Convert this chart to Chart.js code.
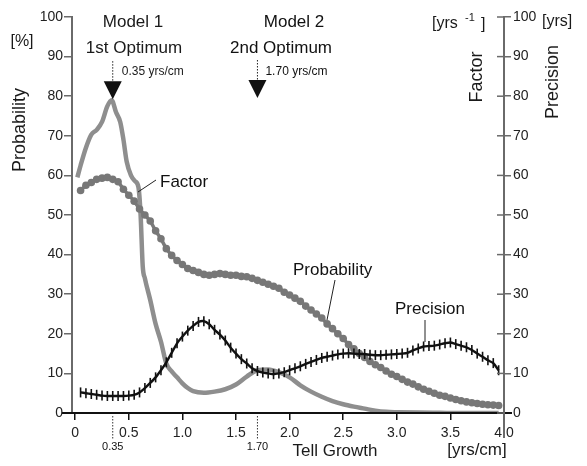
<!DOCTYPE html>
<html>
<head>
<meta charset="utf-8">
<script src="https://cdn.jsdelivr.net/npm/chart.js@4.4.1/dist/chart.umd.min.js"></script>
<style>
  html, body { margin: 0; padding: 0; background: #fff; }
  #wrap { width: 587px; height: 466px; position: relative; }
</style>
</head>
<body>
<div id="wrap"><canvas id="chart"></canvas></div>
<script>
// Tell growth curves: Factor, Probability, Precision vs. growth rate (yrs/cm)

const xTicks = [0, 0.5, 1.0, 1.5, 2.0, 2.5, 3.0, 3.5, 4.0];
const yTicks = [0, 10, 20, 30, 40, 50, 60, 70, 80, 90, 100];

const factorX = [0.02, 0.05, 0.10, 0.15, 0.20, 0.25, 0.30, 0.34, 0.38, 0.42, 0.45, 0.48, 0.52, 0.56, 0.59, 0.61, 0.63, 0.65,
  0.70, 0.75, 0.80, 0.85, 0.90, 0.95, 1.00, 1.05, 1.10, 1.20, 1.30, 1.40, 1.50, 1.60, 1.70, 1.80, 1.90, 2.00,
  2.10, 2.20, 2.30, 2.40, 2.50, 2.60, 2.70, 2.80, 2.90, 3.00, 3.20, 3.40, 3.60, 3.80, 3.95];
const factorY = [59.5, 62.5, 67, 70.3, 71.5, 73.5, 77.5, 79, 76, 73.5, 69, 63.5, 60, 58.5, 57, 50, 37, 34,
  28.5, 22.5, 18, 12.5, 10.5, 9, 7.5, 6.3, 5.5, 5.1, 5.4, 6, 7.2, 9.2, 10.8, 11, 10.3, 9,
  7, 5.4, 4.1, 3, 2.2, 1.6, 1.1, 0.6, 0.3, 0.2, 0.1, 0.05, 0, 0, 0];

const growth = [0.05, 0.10, 0.15, 0.20, 0.25, 0.30, 0.35, 0.40, 0.45, 0.50, 0.55, 0.60, 0.65, 0.70, 0.75, 0.80, 0.85, 0.90, 0.95, 1.00,
  1.05, 1.10, 1.15, 1.20, 1.25, 1.30, 1.35, 1.40, 1.45, 1.50, 1.55, 1.60, 1.65, 1.70, 1.75, 1.80, 1.85, 1.90, 1.95, 2.00,
  2.05, 2.10, 2.15, 2.20, 2.25, 2.30, 2.35, 2.40, 2.45, 2.50, 2.55, 2.60, 2.65, 2.70, 2.75, 2.80, 2.85, 2.90, 2.95, 3.00,
  3.05, 3.10, 3.15, 3.20, 3.25, 3.30, 3.35, 3.40, 3.45, 3.50, 3.55, 3.60, 3.65, 3.70, 3.75, 3.80, 3.85, 3.90, 3.95];

const probability = [56.2, 57.5, 58.2, 59.0, 59.3, 59.5, 59.0, 58.4, 56.5, 55.0, 53.5, 51.5, 50.0, 48.5, 46.0, 44.0, 41.5, 39.8, 38.5, 37.5,
  36.5, 36.0, 35.5, 35.0, 34.8, 35.0, 35.2, 35.0, 34.8, 34.8, 34.5, 34.4, 34.0, 33.5, 33.0, 32.5, 32.0, 31.5, 30.5, 29.8,
  29.0, 28.2, 27.0, 26.0, 25.0, 24.0, 22.5, 21.3, 20.0, 18.8, 17.3, 16.2, 15.0, 14.0, 13.0, 12.2, 11.5, 10.6, 9.8, 9.2,
  8.5, 7.8, 7.3, 6.6, 6.0, 5.5, 5.0, 4.5, 4.2, 3.8, 3.4, 3.1, 2.8, 2.6, 2.4, 2.2, 2.1, 2.0, 1.9];

const precision = [5.2, 5.0, 4.8, 4.6, 4.4, 4.3, 4.3, 4.3, 4.3, 4.4, 4.6, 5.2, 6.3, 7.6, 9.0, 10.8, 12.8, 15.2, 17.6, 19.3,
  20.8, 22.0, 23.0, 23.2, 22.4, 21.0, 19.8, 18.3, 16.5, 15.0, 13.6, 12.5, 11.3, 10.6, 10.2, 10.0, 9.8, 10.0, 10.3, 10.8,
  11.3, 11.8, 12.4, 12.9, 13.4, 13.9, 14.2, 14.5, 14.8, 15.0, 15.1, 15.0, 14.9, 14.9, 14.7, 14.6, 14.6, 14.7, 14.8, 14.9,
  15.0, 15.2, 15.8, 16.3, 16.8, 16.9, 17.0, 17.3, 17.6, 17.8, 17.4, 17.0, 16.6, 15.9, 15.0, 14.2, 13.3, 12.6, 10.8];

const FONT = "'Liberation Sans', Arial, sans-serif";
const AXIS = "#6a6a6a";

function pts(xs, ys) { return xs.map((x, i) => ({ x, y: ys[i] })); }

function text(ctx, s, x, y, size, align = "center") {
  ctx.font = `${size}px ${FONT}`;
  ctx.textAlign = align;
  ctx.textBaseline = "middle";
  ctx.fillText(s, x, y);
}

function vtext(ctx, s, x, y, size) {
  ctx.save();
  ctx.translate(x, y);
  ctx.rotate(-Math.PI / 2);
  text(ctx, s, 0, 0, size);
  ctx.restore();
}

function line(ctx, x1, y1, x2, y2, color, w, dash) {
  ctx.save();
  ctx.strokeStyle = color;
  ctx.lineWidth = w;
  if (dash) ctx.setLineDash(dash);
  ctx.beginPath();
  ctx.moveTo(x1, y1);
  ctx.lineTo(x2, y2);
  ctx.stroke();
  ctx.restore();
}

function arrow(ctx, px, tipY) {
  line(ctx, px, tipY - 38, px, tipY - 16, "#222", 1, [1.5, 1.5]);
  ctx.beginPath();
  ctx.moveTo(px - 9, tipY - 18);
  ctx.lineTo(px + 9, tipY - 18);
  ctx.lineTo(px, tipY);
  ctx.closePath();
  ctx.fillStyle = "#111";
  ctx.fill();
}

const extras = {
  id: "extras",
  afterDraw(chart) {
    const { ctx, chartArea: a, scales } = chart;
    const x = scales.x, y = scales.y;
    ctx.save();
    ctx.fillStyle = "#1a1a1a";

    // longer base line and right axis line
    line(ctx, a.left - 10, a.bottom, a.right + 8, a.bottom, "#111", 2);
    line(ctx, a.right, a.top, a.right, a.bottom + 25, AXIS, 2);
    // right ticks crossing inward too
    yTicks.forEach(v => line(ctx, a.right - 7, y.getPixelForValue(v), a.right, y.getPixelForValue(v), AXIS, 1.5));

    // axis titles
    text(ctx, "[%]", 22, 42, 16);
    vtext(ctx, "Probability", 20, 130, 18);
    text(ctx, "[yrs", 432, 24, 16, "left");
    text(ctx, "-1", 465, 18, 11, "left");
    text(ctx, "]", 481, 25, 16, "left");
    text(ctx, "[yrs]", 542, 22, 16, "left");
    vtext(ctx, "Factor", 477, 77, 18);
    vtext(ctx, "Precision", 553, 82, 18);
    text(ctx, "Tell Growth", 335, 451, 17);
    text(ctx, "[yrs/cm]", 477, 450, 17);

    // optimum annotations
    const p1 = x.getPixelForValue(0.35), p2 = x.getPixelForValue(1.70);
    text(ctx, "Model 1", 133, 22, 17);
    text(ctx, "1st Optimum", 134, 48, 17);
    text(ctx, "0.35 yrs/cm", p1 + 9, 72, 12, "left");
    arrow(ctx, p1, y.getPixelForValue(79) - 1);
    text(ctx, "Model 2", 294, 22, 17);
    text(ctx, "2nd Optimum", 281, 48, 17);
    text(ctx, "1.70 yrs/cm", p2 + 8, 72, 12, "left");
    arrow(ctx, p2, 98);

    // bottom markers
    [[p1, "0.35"], [p2, "1.70"]].forEach(([px, s]) => {
      line(ctx, px, a.bottom + 3, px, a.bottom + 27, "#333", 1, [1.5, 1.5]);
      text(ctx, s, px, a.bottom + 34, 11);
    });

    // series labels with leader lines
    text(ctx, "Factor", 160, 182, 17, "left");
    line(ctx, 138, 192, 156, 180, "#222", 1);
    text(ctx, "Probability", 293, 270, 17, "left");
    line(ctx, 335, 280, 327, 320, "#222", 1);
    text(ctx, "Precision", 395, 309, 17, "left");
    line(ctx, 425, 320, 425, 342, "#222", 1);
    ctx.restore();
  }
};

new Chart(document.getElementById("chart"), {
  type: "line",
  data: {
    datasets: [
      {
        label: "Precision", data: pts(growth, precision), yAxisID: "y2",
        borderColor: "#111", borderWidth: 2.4, pointStyle: "line", rotation: 90,
        pointRadius: 5, pointBorderWidth: 1.6, pointBorderColor: "#111", tension: 0.2, order: 1
      },
      {
        label: "Probability", data: pts(growth, probability), yAxisID: "y",
        borderColor: "#7a7a7a", borderWidth: 3.5, backgroundColor: "#777",
        pointRadius: 3.8, pointBorderWidth: 0, tension: 0.2, order: 2
      },
      {
        label: "Factor", data: pts(factorX, factorY), yAxisID: "y2",
        borderColor: "#8e8e8e", borderWidth: 4.5, pointRadius: 0,
        cubicInterpolationMode: "monotone", order: 3
      }
    ]
  },
  options: {
    responsive: true, maintainAspectRatio: false, animation: false,
    layout: { padding: { top: 17, left: 0, right: 0, bottom: 0 } },
    plugins: { legend: { display: false }, tooltip: { enabled: false } },
    scales: {
      x: {
        type: "linear", min: -0.03, max: 4.0,
        afterBuildTicks: s => { s.ticks = xTicks.map(v => ({ value: v })); },
        afterFit: s => { s.height = 53; },
        grid: { drawOnChartArea: false, drawTicks: true, tickLength: 7, color: "#111", lineWidth: 1.5 },
        border: { display: true, color: "#111", width: 2 },
        ticks: { color: "#222", padding: 5, maxRotation: 0, font: { size: 14, family: FONT },
          callback: v => v === 0 ? "0" : v.toFixed(1) }
      },
      y: {
        position: "left", min: 0, max: 100,
        afterBuildTicks: s => { s.ticks = yTicks.map(v => ({ value: v })); },
        afterFit: s => { s.width = 72; },
        grid: { drawOnChartArea: false, drawTicks: true, tickLength: 8, color: AXIS, lineWidth: 1.5 },
        border: { display: true, color: AXIS, width: 2 },
        ticks: { color: "#222", padding: 1, font: { size: 14, family: FONT } }
      },
      y2: {
        position: "right", min: 0, max: 100,
        afterBuildTicks: s => { s.ticks = yTicks.map(v => ({ value: v })); },
        afterFit: s => { s.width = 83; },
        grid: { drawOnChartArea: false, drawTicks: true, tickLength: 7, color: AXIS, lineWidth: 1.5 },
        border: { display: true, color: AXIS, width: 2 },
        ticks: { color: "#222", padding: 2, font: { size: 14, family: FONT } }
      }
    }
  },
  plugins: [extras]
});
</script>
</body>
</html>
